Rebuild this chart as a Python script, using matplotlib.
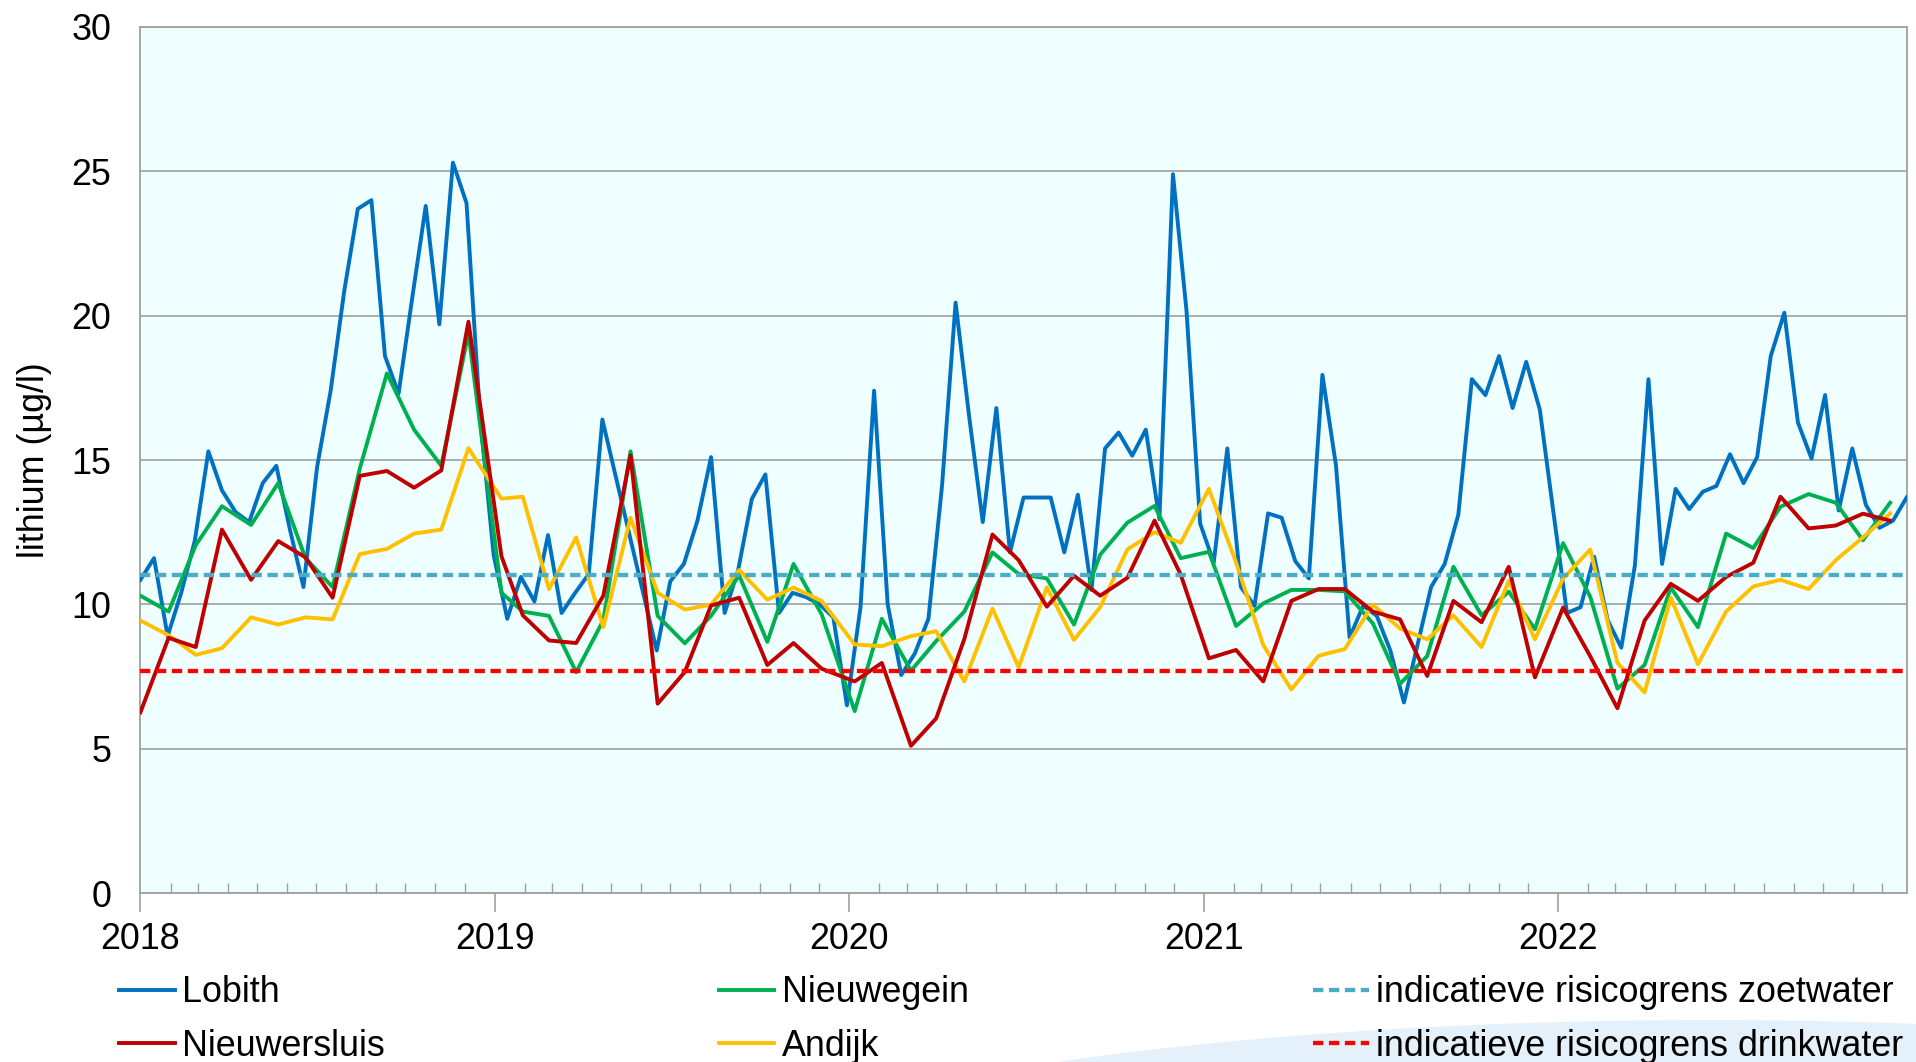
import matplotlib
matplotlib.use('Agg')
import matplotlib.pyplot as plt
import matplotlib.dates as mdates
from matplotlib.patches import Ellipse
import pandas as pd

plt.rcParams['font.family'] = ['Liberation Sans', 'DejaVu Sans']

# ---------------- data ----------------
lobith_start = '2018-01-01'   # two-weekly samples
lobith = [10.85, 11.6, 8.9, 10.4, 12.2, 15.3, 13.95, 13.2, 12.85, 14.2,
          14.8, 12.6, 10.6, 14.75, 17.4, 20.85, 23.7, 24.0, 18.6, 17.3,
          20.6, 23.8, 19.7, 25.3, 23.9, 16.5, 11.7, 9.5, 10.95, 10.1,
          12.4, 9.7, 10.4, 11.05, 16.4, 14.4, 12.4, 10.4, 8.4, 10.8,
          11.4, 12.9, 15.1, 9.7, 11.2, 13.65, 14.5, 9.7, 10.4, 10.25,
          10.0, 9.55, 6.5, 9.9, 17.4, 10.0, 7.55, 8.3, 9.5, 14.1,
          20.45, 16.5, 12.85, 16.8, 11.8, 13.7, 13.7, 13.7, 11.8, 13.8,
          10.5, 15.4, 15.95, 15.15, 16.05, 12.95, 24.9, 20.15, 12.8, 11.45,
          15.4, 10.6, 9.95, 13.15, 13.0, 11.5, 10.9, 17.95, 14.8, 8.85,
          9.95, 9.6, 8.4, 6.6, 8.6, 10.6, 11.4, 13.1, 17.8, 17.25,
          18.6, 16.8, 18.4, 16.75, 13.2, 9.7, 9.9, 11.65, 9.45, 8.5,
          11.35, 17.8, 11.4, 14.0, 13.3, 13.9, 14.1, 15.2, 14.2, 15.1,
          18.6, 20.1, 16.3, 15.05, 17.25, 13.25, 15.4, 13.45, 12.65, 12.9,
          13.7]

monthly_dates = [
    '2018-01-01', '2018-01-30', '2018-02-27', '2018-03-26', '2018-04-25', '2018-05-23',
    '2018-06-20', '2018-07-18', '2018-08-15', '2018-09-12', '2018-10-10', '2018-11-07',
    '2018-12-05', '2019-01-08', '2019-01-30', '2019-02-26', '2019-03-26', '2019-04-23',
    '2019-05-21', '2019-06-18', '2019-07-16', '2019-08-12', '2019-09-10', '2019-10-09',
    '2019-11-05', '2019-12-04', '2020-01-07', '2020-02-04', '2020-03-05', '2020-03-31',
    '2020-04-29', '2020-05-28', '2020-06-24', '2020-07-23', '2020-08-20', '2020-09-16',
    '2020-10-14', '2020-11-11', '2020-12-08', '2021-01-06', '2021-02-03', '2021-03-03',
    '2021-04-01', '2021-04-29', '2021-05-26', '2021-06-24', '2021-07-22', '2021-08-19',
    '2021-09-15', '2021-10-14', '2021-11-11', '2021-12-08', '2022-01-06', '2022-02-03',
    '2022-03-03', '2022-03-31', '2022-04-27', '2022-05-25', '2022-06-23', '2022-07-21',
    '2022-08-18', '2022-09-16', '2022-10-14', '2022-11-11', '2022-12-09']

nieuwegein = [10.3, 9.75, 12.05, 13.4, 12.75, 14.2, 11.6, 10.6, 14.7, 18.0,
              16.05, 14.8, 19.4, 10.4, 9.75, 9.6, 7.65, 9.45, 15.3, 9.6,
              8.65, 9.6, 11.0, 8.7, 11.4, 9.65, 6.3, 9.5, 7.7, 8.73,
              9.75, 11.8, 11.05, 10.9, 9.3, 11.72, 12.83, 13.41, 11.6, 11.82,
              9.25, 10.03, 10.5, 10.5, 10.45, 9.34, 7.25, 8.21, 11.3, 9.62,
              10.44, 9.14, 12.12, 10.26, 7.08, 7.9, 10.58, 9.21, 12.45, 11.95,
              13.38, 13.82, 13.52, 12.22, 13.52]

nieuwersluis = [6.26, 8.84, 8.52, 12.59, 10.85, 12.19, 11.63, 10.23, 14.45, 14.62,
                14.04, 14.64, 19.79, 11.67, 9.62, 8.75, 8.66, 10.3, 15.16, 6.56,
                7.66, 9.96, 10.23, 7.9, 8.66, 7.77, 7.33, 7.97, 5.1, 6.05,
                8.8, 12.42, 11.53, 9.92, 10.99, 10.3, 10.92, 12.9, 11.03, 8.13,
                8.42, 7.33, 10.12, 10.53, 10.53, 9.75, 9.48, 7.52, 10.12, 9.38,
                11.3, 7.47, 9.89, 8.2, 6.4, 9.44, 10.71, 10.12, 10.95, 11.44,
                13.73, 12.63, 12.73, 13.14, 12.9]

andijk = [9.44, 8.93, 8.25, 8.48, 9.55, 9.3, 9.55, 9.48, 11.74, 11.92,
          12.45, 12.59, 15.41, 13.66, 13.73, 10.53, 12.32, 9.21, 13.0, 10.4,
          9.82, 9.99, 11.19, 10.16, 10.58, 10.12, 8.61, 8.55, 8.9, 9.07,
          7.33, 9.85, 7.82, 10.59, 8.77, 9.9, 11.9, 12.5, 12.13, 14.0,
          11.45, 8.59, 7.05, 8.22, 8.45, 9.99, 9.16, 8.79, 9.62, 8.52,
          10.81, 8.79, 10.89, 11.9, 7.97, 6.95, 10.23, 7.93, 9.75, 10.62,
          10.85, 10.53, 11.53, 12.32, 13.15]

risico_zoetwater = 11.0
risico_drinkwater = 7.7

x_start = '2018-01-01'
x_end = '2022-12-26'
y_ticks = [0, 5, 10, 15, 20, 25, 30]

# ---------------- figure ----------------
lob_dates = pd.date_range(lobith_start, periods=len(lobith), freq='14D')
m_dates = pd.to_datetime(monthly_dates)

FS = 25.8
fig = plt.figure(figsize=(19.16, 10.62), dpi=100)

# faint decorative swoosh at the bottom right (background watermark)
fig.patches.append(Ellipse((1710, -172), 2199, 428, transform=None,
                           facecolor='#E4F1FA', edgecolor='none', zorder=0))

ax = fig.add_axes([0.0733, 0.1591, 0.9218, 0.8155])
ax.set_facecolor('#EFFEFE')

lw = 2.8
ax.plot(lob_dates, lobith, color='#0070C0', lw=lw, label='Lobith', zorder=3)
ax.plot(m_dates, nieuwegein, color='#00B050', lw=lw, label='Nieuwegein', zorder=3)
ax.plot(m_dates, andijk, color='#FFC000', lw=lw, label='Andijk', zorder=3)
ax.plot(m_dates, nieuwersluis, color='#C00000', lw=lw, label='Nieuwersluis', zorder=3)
ax.axhline(risico_zoetwater, color='#4BACC6', lw=3.1, dashes=(2.4, 1.3),
           label='indicatieve risicogrens zoetwater', zorder=4)
ax.axhline(risico_drinkwater, color='#FF0000', lw=3.1, dashes=(2.4, 1.3),
           label='indicatieve risicogrens drinkwater', zorder=4)

ax.set_xlim(pd.Timestamp(x_start), pd.Timestamp(x_end))
ax.set_ylim(0, 30)
ax.set_yticks(y_ticks)
ax.yaxis.grid(True, color='#A6A6A6', lw=1.3, zorder=0)
ax.set_axisbelow(True)

ax.xaxis.set_major_locator(mdates.YearLocator())
ax.xaxis.set_major_formatter(mdates.DateFormatter('%Y'))
ax.xaxis.set_minor_locator(mdates.MonthLocator())

for s in ['left', 'bottom', 'right', 'top']:
    ax.spines[s].set_color('#A0A0A0')
    ax.spines[s].set_linewidth(1.3)

ax.tick_params(axis='x', which='major', direction='out', length=14, width=1.2,
               color='#A0A0A0', pad=7, labelsize=FS)
ax.tick_params(axis='x', which='minor', direction='in', length=7, width=1.0,
               color='#A0A0A0')
ax.tick_params(axis='y', which='major', length=0, pad=21, labelsize=FS)

ax.set_ylabel('lithium (µg/l)', fontsize=FS)
ax.yaxis.set_label_coords(-0.050, 0.5)

# legend: three columns, each placed at its own position
hd = dict(zip(*reversed(ax.get_legend_handles_labels())))
columns = [(['Lobith', 'Nieuwersluis'], 0.0619),
           (['Nieuwegein', 'Andijk'], 0.3750),
           (['indicatieve risicogrens zoetwater', 'indicatieve risicogrens drinkwater'], 0.6855)]
for names, xpos in columns:
    fig.legend([hd[n] for n in names], names, loc='upper left',
               bbox_to_anchor=(xpos, 0.0815), ncol=1, frameon=False,
               fontsize=FS, handlelength=1.56, handletextpad=0.2,
               labelspacing=0.51, borderpad=0, borderaxespad=0)

fig.savefig('out.png', dpi=100)
